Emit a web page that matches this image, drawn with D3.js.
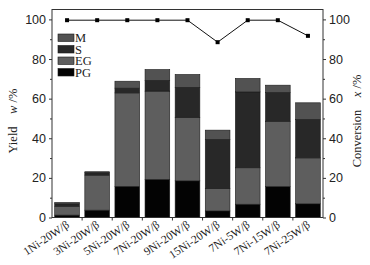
<!DOCTYPE html>
<html>
<head>
<meta charset="utf-8">
<script src="https://cdn.jsdelivr.net/npm/d3@7"></script>
<style>
  body { margin: 0; background: #fff; }
  svg { display: block; font-family: "Liberation Serif", "DejaVu Serif", serif; }
</style>
</head>
<body>
<script>
const catalysts = ["1Ni-20W/β", "3Ni-20W/β", "5Ni-20W/β", "7Ni-20W/β", "9Ni-20W/β",
  "15Ni-20W/β", "7Ni-5W/β", "7Ni-15W/β", "7Ni-25W/β"];
const PG = [1.2, 3.7, 15.7, 19.2, 18.5, 3.3, 6.7, 15.6, 6.9];
const EG = [4.5, 17.7, 47.2, 44.6, 32.1, 11.3, 18.4, 33.0, 23.2];
const S = [1.2, 1.2, 2.4, 5.4, 15.1, 24.8, 38.3, 14.5, 19.4];
const M = [0.7, 0.5, 3.5, 5.5, 6.5, 4.7, 6.8, 3.7, 8.4];
const conversion = [99.6, 99.6, 99.6, 99.6, 99.6, 88.5, 99.6, 99.6, 91.7];
const yTicks = [0, 20, 40, 60, 80, 100];

const keys = ["PG", "EG", "S", "M"];
const colors = { PG: "#030303", EG: "#5e5e5e", S: "#282828", M: "#525252" };

const rows = catalysts.map((c, i) => ({ name: c, PG: PG[i], EG: EG[i], S: S[i], M: M[i], conv: conversion[i] }));

const width = 370, height = 265;
const plotLeft = 52, plotRight = 323, plotTop = 9.5, plotBottom = 217.5;

const svg = d3.select("body").append("svg")
  .attr("width", width)
  .attr("height", height);

const x = d3.scaleBand().domain(catalysts).range([plotLeft, plotRight]).paddingInner(0.18).paddingOuter(0.09);
const y = d3.scaleLinear().domain([0, 105]).range([plotBottom, plotTop]);

const stack = d3.stack().keys(keys)(rows);

svg.append("g")
  .selectAll("g")
  .data(stack)
  .enter()
  .append("g")
  .attr("fill", (d) => colors[d.key])
  .selectAll("rect")
  .data((d) => d)
  .enter()
  .append("rect")
  .attr("x", (d) => x(d.data.name))
  .attr("y", (d) => y(d[1]))
  .attr("width", x.bandwidth())
  .attr("height", (d) => y(d[0]) - y(d[1]))
  .attr("stroke", "#1a1a1a")
  .attr("stroke-width", 0.6);

// frame
svg.append("rect")
  .attr("x", plotLeft).attr("y", plotTop)
  .attr("width", plotRight - plotLeft).attr("height", plotBottom - plotTop)
  .attr("fill", "none").attr("stroke", "#333").attr("stroke-width", 1);

// left axis
const leftAxis = svg.append("g")
  .attr("transform", "translate(" + plotLeft + ",0)")
  .call(d3.axisLeft(y).tickValues(yTicks).tickSize(3).tickPadding(3));
leftAxis.select(".domain").remove();
leftAxis.selectAll("text").style("font-size", "12.5px").attr("fill", "#222");
leftAxis.selectAll("line").attr("stroke", "#333");
svg.append("g")
  .attr("transform", "translate(" + plotLeft + ",0)")
  .call(d3.axisLeft(y).tickValues([10, 30, 50, 70, 90]).tickSize(2).tickFormat(""))
  .call((g) => g.select(".domain").remove())
  .selectAll("line").attr("stroke", "#333");

// right axis
const rightAxis = svg.append("g")
  .attr("transform", "translate(" + plotRight + ",0)")
  .call(d3.axisRight(y).tickValues(yTicks).tickSize(3).tickPadding(3));
rightAxis.select(".domain").remove();
rightAxis.selectAll("text").style("font-size", "12.5px").attr("fill", "#222");
rightAxis.selectAll("line").attr("stroke", "#333");
svg.append("g")
  .attr("transform", "translate(" + plotRight + ",0)")
  .call(d3.axisRight(y).tickValues([10, 30, 50, 70, 90]).tickSize(2).tickFormat(""))
  .call((g) => g.select(".domain").remove())
  .selectAll("line").attr("stroke", "#333");

// bottom ticks between bars
const step = x.step();
svg.append("g")
  .selectAll("line")
  .data(catalysts.slice(1))
  .enter()
  .append("line")
  .attr("x1", (d) => x(d) - (step - x.bandwidth()) / 2)
  .attr("x2", (d) => x(d) - (step - x.bandwidth()) / 2)
  .attr("y1", plotBottom)
  .attr("y2", plotBottom + 3)
  .attr("stroke", "#333");

// x labels
svg.append("g")
  .selectAll("text")
  .data(catalysts)
  .enter()
  .append("text")
  .attr("transform", (d) => "translate(" + (x(d) + x.bandwidth() / 2 + 3) + "," + (plotBottom + 9) + ") rotate(-34)")
  .attr("text-anchor", "end")
  .style("font-size", "11.5px")
  .attr("fill", "#222")
  .text((d) => d);

// conversion line
const line = d3.line()
  .x((d) => x(d.name) + x.bandwidth() / 2)
  .y((d) => y(d.conv));
svg.append("path")
  .datum(rows)
  .attr("d", line)
  .attr("fill", "none")
  .attr("stroke", "#111")
  .attr("stroke-width", 1);
svg.append("g")
  .selectAll("rect")
  .data(rows)
  .enter()
  .append("rect")
  .attr("x", (d) => x(d.name) + x.bandwidth() / 2 - 2)
  .attr("y", (d) => y(d.conv) - 2)
  .attr("width", 4)
  .attr("height", 4)
  .attr("fill", "#000");

// legend
const legendKeys = ["M", "S", "EG", "PG"];
const legend = svg.append("g").attr("transform", "translate(58,34)");
legend.selectAll("rect")
  .data(legendKeys)
  .enter()
  .append("rect")
  .attr("x", 0)
  .attr("y", (d, i) => i * 11.5)
  .attr("width", 16)
  .attr("height", 7.5)
  .attr("fill", (d) => colors[d])
  .attr("stroke", "#1a1a1a")
  .attr("stroke-width", 0.6);
legend.selectAll("text")
  .data(legendKeys)
  .enter()
  .append("text")
  .attr("x", 17)
  .attr("y", (d, i) => i * 11.5 + 8)
  .style("font-size", "12.5px")
  .attr("fill", "#222")
  .text((d) => d);

// axis titles
const yLabel = svg.append("text")
  .attr("transform", "translate(17," + 121 + ") rotate(-90)")
  .attr("text-anchor", "middle")
  .style("font-size", "12.5px")
  .attr("fill", "#222");
yLabel.append("tspan").text("Yield\u2002\u2002");
yLabel.append("tspan").style("font-style", "italic").text("w");
yLabel.append("tspan").text(" /%");

const xLabel = svg.append("text")
  .attr("transform", "translate(361," + 121 + ") rotate(-90)")
  .attr("text-anchor", "middle")
  .style("font-size", "12.5px")
  .attr("fill", "#222");
xLabel.append("tspan").text("Conversion\u2002\u2002");
xLabel.append("tspan").style("font-style", "italic").text("x");
xLabel.append("tspan").text(" /%");
</script>
</body>
</html>
